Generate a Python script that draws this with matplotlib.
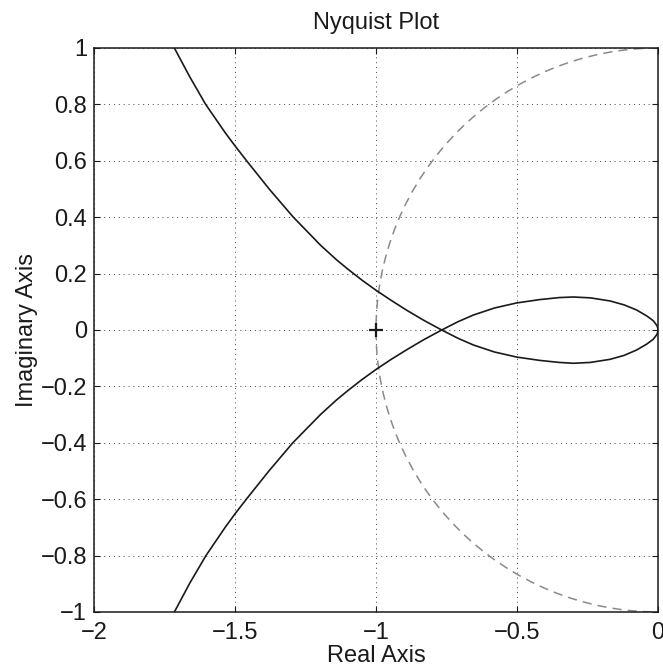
import matplotlib
matplotlib.use("Agg")
import matplotlib.pyplot as plt
from matplotlib.patches import Arc

# Branch from upper-left, through the crossing, into the lower half of the loop
branch1_re = [-1.715, -1.660, -1.604, -1.535, -1.500, -1.458, -1.378, -1.294,
              -1.196, -1.140, -1.100, -1.050, -1.000, -0.946, -0.891, -0.830,
              -0.767, -0.710, -0.655, -0.580, -0.501, -0.418, -0.350, -0.300,
              -0.240, -0.170, -0.120, -0.076, -0.040, -0.017, -0.004, -0.001, 0.0]
branch1_im = [1.000, 0.897, 0.800, 0.700, 0.653, 0.599, 0.499, 0.401,
              0.300, 0.249, 0.216, 0.177, 0.141, 0.105, 0.070, 0.034,
              0.000, -0.029, -0.053, -0.078, -0.096, -0.108, -0.115, -0.118,
              -0.115, -0.104, -0.090, -0.071, -0.050, -0.033, -0.016, -0.008, 0.0]

# Branch from lower-left, through the crossing, into the upper half of the loop
branch2_re = [-1.715, -1.660, -1.603, -1.535, -1.500, -1.459, -1.379, -1.295,
              -1.196, -1.140, -1.100, -1.050, -1.000, -0.946, -0.891, -0.830,
              -0.767, -0.710, -0.655, -0.580, -0.501, -0.418, -0.350, -0.300,
              -0.240, -0.170, -0.120, -0.076, -0.040, -0.017, -0.004, -0.001, 0.0]
branch2_im = [-1.000, -0.897, -0.800, -0.700, -0.652, -0.599, -0.499, -0.400,
              -0.299, -0.248, -0.215, -0.176, -0.140, -0.104, -0.070, -0.034,
              0.000, 0.029, 0.053, 0.078, 0.096, 0.108, 0.115, 0.117,
              0.114, 0.103, 0.089, 0.071, 0.050, 0.033, 0.016, 0.008, 0.0]

# Unit circle reference (dashed)
circle_center = (0.0, 0.0)
circle_radius = 1.0

# Critical point
crit_re = [-1.0]
crit_im = [0.0]

xticks = [-2, -1.5, -1, -0.5, 0]
xticklabels = ["\u22122", "\u22121.5", "\u22121", "\u22120.5", "0"]
yticks = [-1, -0.8, -0.6, -0.4, -0.2, 0, 0.2, 0.4, 0.6, 0.8, 1]
yticklabels = ["\u22121", "\u22120.8", "\u22120.6", "\u22120.4", "\u22120.2", "0",
               "0.2", "0.4", "0.6", "0.8", "1"]

plt.rcParams['font.family'] = ['Liberation Sans', 'DejaVu Sans']

fig = plt.figure(figsize=(6.63, 6.72), dpi=100)
ax = fig.add_axes([94/663, 1-612/672, (658-94)/663, (612-48)/672])

arc = Arc(circle_center, 2*circle_radius, 2*circle_radius, theta1=90, theta2=270,
          color='#8a8a8a', lw=1.1, linestyle=(0, (6, 4)), zorder=2)
ax.add_patch(arc)

ax.plot(branch1_re, branch1_im, color='#1a1a1a', lw=1.2, zorder=3)
ax.plot(branch2_re, branch2_im, color='#1a1a1a', lw=1.2, zorder=3)
ax.plot(crit_re, crit_im, marker='+', color='#1a1a1a', markersize=9.5,
        markeredgewidth=1.6, linestyle='none', zorder=4)

ax.set_xlim(-2, 0)
ax.set_ylim(-1, 1)
ax.set_xticks(xticks)
ax.set_xticklabels(xticklabels)
ax.set_yticks(yticks)
ax.set_yticklabels(yticklabels)

ax.grid(True, color='#444444', linestyle=(0, (1, 4)), linewidth=0.7)
ax.tick_params(direction='in', top=True, right=True, length=4, width=0.8,
               labelsize=17, pad=5, colors='#1a1a1a')
ax.tick_params(axis='x', pad=7)
for s in ax.spines.values():
    s.set_linewidth(1.1)
    s.set_color('#1a1a1a')

ax.set_title('Nyquist Plot', fontsize=17, pad=14, color='#1a1a1a')
ax.set_xlabel('Real Axis', fontsize=17, labelpad=1, color='#1a1a1a')
ax.set_ylabel('Imaginary Axis', fontsize=17, labelpad=2, color='#1a1a1a')

fig.savefig('out.png', dpi=100)
